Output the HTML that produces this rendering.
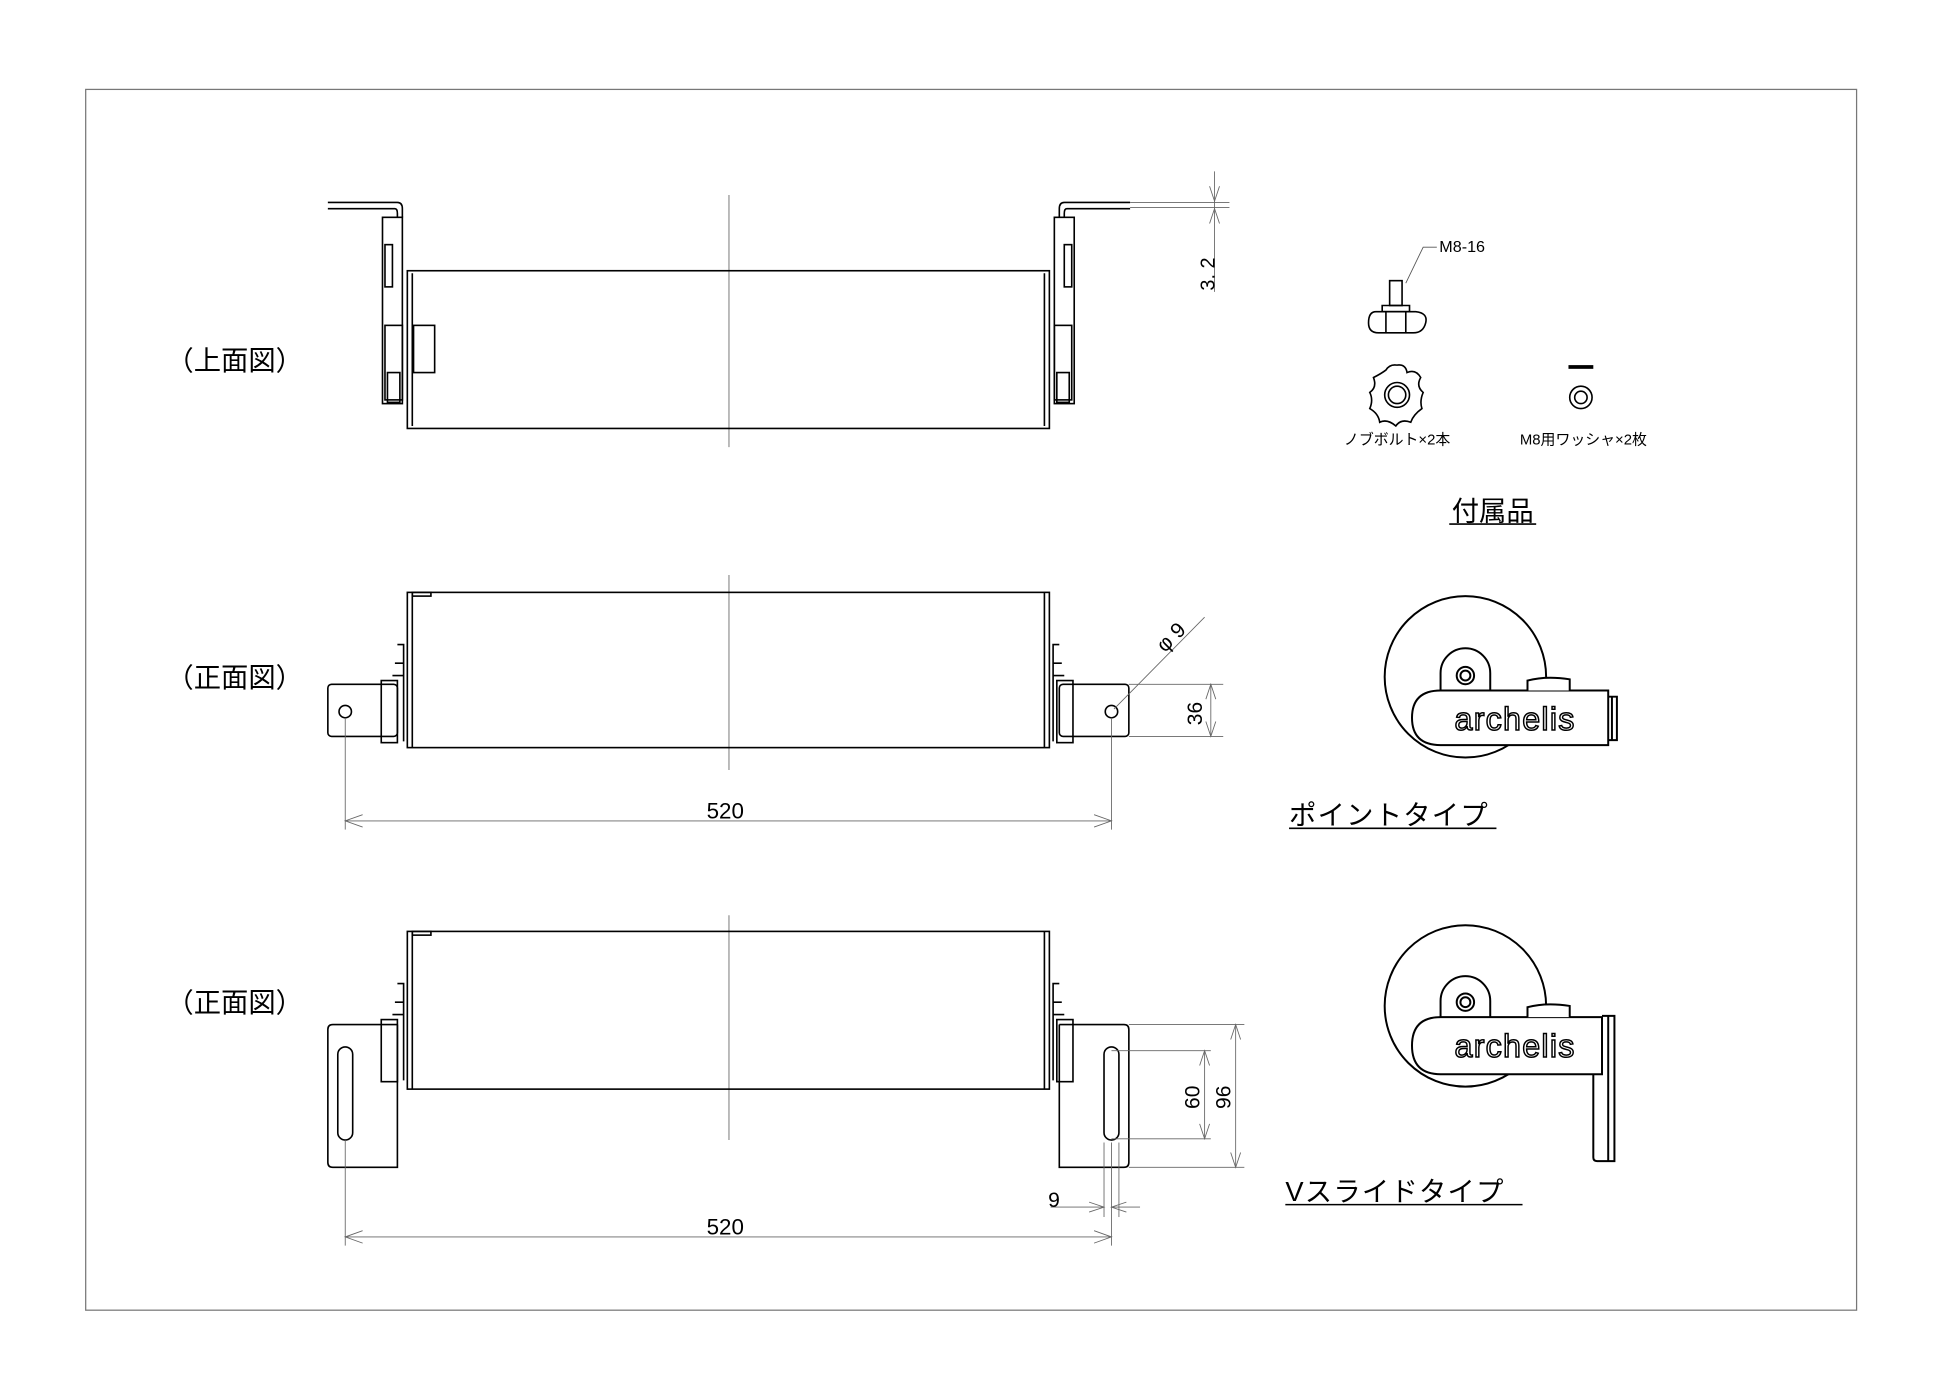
<!DOCTYPE html>
<html><head><meta charset="utf-8"><style>
html,body{margin:0;padding:0;background:#fff;}
svg{display:block;}
text{font-family:"Liberation Sans","Noto Sans CJK JP",sans-serif;fill:#000;}
</style></head><body>
<svg width="1946" height="1376" viewBox="0 0 1567 1108" preserveAspectRatio="none" xmlns="http://www.w3.org/2000/svg">
<rect x="0" y="0" width="1567" height="1108" fill="#fff"/>
<rect x="69" y="72" width="1426" height="983" fill="none" stroke="#777" stroke-width="1"/>

<g fill="none" stroke="#000" stroke-width="1.3">
<line x1="587" y1="157" x2="587" y2="360" stroke="#666" stroke-width="0.7"/>
<path d="M264 163 H320 Q324 163 324 168 V175 M264 168 H318 Q320 168 320 172 V175"/>
<rect x="308" y="175" width="16" height="150"/>
<rect x="310" y="197" width="6" height="34"/>
<rect x="310" y="262" width="14" height="60"/>
<rect x="312" y="300" width="10" height="24"/>
<rect x="333" y="262" width="17" height="38"/>
<rect x="328" y="218" width="517" height="127"/>
<line x1="332" y1="220" x2="332" y2="343"/><line x1="841" y1="220" x2="841" y2="343"/>
<path d="M910 163 H857 Q853 163 853 168 V175 M910 168 H859 Q857 168 857 172 V175"/>
<rect x="849" y="175" width="16" height="150"/>
<rect x="857" y="197" width="6" height="34"/>
<rect x="849" y="262" width="14" height="60"/>
<rect x="851" y="300" width="10" height="24"/>
</g>
<g stroke="#666" stroke-width="0.7" fill="none">
<line x1="910" y1="163" x2="990" y2="163"/><line x1="910" y1="167" x2="990" y2="167"/>
<line x1="978" y1="138" x2="978" y2="235"/>
<path d="M974 150 L978 162 L982 150 M974 180 L978 168 L982 180"/>
</g>
<text transform="translate(978,234) rotate(-90)" font-size="16">3. 2</text>
<text x="134" y="298" font-size="22">（上面図）</text>

<g fill="none" stroke="#000" stroke-width="1.3">
<line x1="587" y1="463" x2="587" y2="620" stroke="#666" stroke-width="0.7"/>
<rect x="328" y="477" width="517" height="125"/>
<line x1="332" y1="477" x2="332" y2="602"/><line x1="841" y1="477" x2="841" y2="602"/>
<rect x="332" y="477" width="15" height="3"/>
<rect x="264" y="551" width="56" height="42" rx="3"/>
<circle cx="278" cy="573" r="5"/>
<path d="M320 519 H325 V597 M318 534 H325 M316 544 H325"/>
<rect x="307" y="548" width="13" height="50"/>
<rect x="853" y="551" width="56" height="42" rx="3"/>
<circle cx="895" cy="573" r="5"/>
<path d="M853 519 H848 V597 M855 534 H848 M857 544 H848"/>
<rect x="851" y="548" width="13" height="50"/>
</g>
<g stroke="#666" stroke-width="0.7" fill="none">
<line x1="909" y1="551" x2="985" y2="551"/><line x1="909" y1="593" x2="985" y2="593"/>
<line x1="975" y1="551" x2="975" y2="593"/>
<path d="M971 563 L975 551 L979 563 M971 581 L975 593 L979 581"/>
<line x1="897" y1="571" x2="970" y2="497"/>
<line x1="278" y1="578" x2="278" y2="668"/><line x1="895" y1="578" x2="895" y2="668"/>
<line x1="278" y1="661" x2="895" y2="661"/>
<path d="M292 656 L278 661 L292 666 M881 656 L895 661 L881 666"/>
</g>
<text transform="translate(968,584) rotate(-90)" font-size="17">36</text>
<text transform="translate(938,526) rotate(-45)" font-size="17">φ 9</text>
<text x="569" y="659" font-size="18">520</text>
<text x="134" y="553" font-size="22">（正面図）</text>

<g fill="none" stroke="#000" stroke-width="1.3">
<line x1="587" y1="737" x2="587" y2="918" stroke="#666" stroke-width="0.7"/>
<rect x="328" y="750" width="517" height="127"/>
<line x1="332" y1="750" x2="332" y2="877"/><line x1="841" y1="750" x2="841" y2="877"/>
<rect x="332" y="750" width="15" height="3"/>
<path d="M320 825 H268 Q264 825 264 829 V936 Q264 940 268 940 H320 V825"/>
<rect x="272" y="843" width="12" height="75" rx="6"/>
<path d="M320 792 H325 V870 M318 807 H325 M316 817 H325"/>
<rect x="307" y="821" width="13" height="50"/>
<path d="M853 825 H905 Q909 825 909 829 V936 Q909 940 905 940 H853 V825"/>
<rect x="889" y="843" width="12" height="75" rx="6"/>
<path d="M853 792 H848 V870 M855 807 H848 M857 817 H848"/>
<rect x="851" y="821" width="13" height="50"/>
</g>
<g stroke="#666" stroke-width="0.7" fill="none">
<line x1="909" y1="825" x2="1002" y2="825"/><line x1="909" y1="940" x2="1002" y2="940"/>
<line x1="995" y1="825" x2="995" y2="940"/>
<path d="M991 837 L995 825 L999 837 M991 928 L995 940 L999 928"/>
<line x1="895" y1="846" x2="975" y2="846"/><line x1="895" y1="917" x2="975" y2="917"/>
<line x1="970" y1="846" x2="970" y2="917"/>
<path d="M966 858 L970 846 L974 858 M966 905 L970 917 L974 905"/>
<line x1="889" y1="920" x2="889" y2="980"/><line x1="895" y1="920" x2="895" y2="980"/><line x1="901" y1="920" x2="901" y2="980"/>
<line x1="846" y1="972" x2="889" y2="972"/><line x1="895" y1="972" x2="918" y2="972"/>
<path d="M877 968 L889 972 L877 976 M907 968 L895 972 L907 976"/>
<line x1="278" y1="918" x2="278" y2="1003"/><line x1="895" y1="980" x2="895" y2="1003"/>
<line x1="278" y1="996" x2="895" y2="996"/>
<path d="M292 991 L278 996 L292 1001 M881 991 L895 996 L881 1001"/>
</g>
<text transform="translate(966,893) rotate(-90)" font-size="17">60</text>
<text transform="translate(991,893) rotate(-90)" font-size="17">96</text>
<text x="844" y="972" font-size="17">9</text>
<text x="569" y="994" font-size="18">520</text>
<text x="134" y="815" font-size="22">（正面図）</text>

<g fill="none" stroke="#000" stroke-width="1.3">
<rect x="1119" y="226" width="10" height="20"/>
<path d="M1113 246 H1135 V251 H1113 Z"/>
<path d="M1108 251 H1140 Q1150 252 1148 260 Q1146 268 1138 268 H1110 Q1102 268 1102 260 Q1102 251 1108 251 Z"/>
<line x1="1116" y1="251" x2="1116" y2="268"/><line x1="1132" y1="251" x2="1132" y2="268"/>
<path d="M1125 294 Q1132 293 1133 300 Q1140 297 1144 304 Q1140 311 1146 316 Q1143 323 1145 329 Q1138 334 1136 340 Q1128 337 1124 343 Q1117 337 1111 340 Q1110 333 1103 329 Q1106 322 1103 316 Q1109 312 1106 304 Q1112 301 1116 298 Q1119 293 1125 294 Z"/>
<circle cx="1125" cy="318" r="10"/><circle cx="1125" cy="318" r="7"/>
<circle cx="1273" cy="320" r="9"/><circle cx="1273" cy="320" r="5"/>
</g>
<rect x="1263" y="294" width="20" height="3" fill="#000"/>
<path d="M1157 199 H1146 L1132 228" stroke="#555" stroke-width="0.7" fill="none"/>
<text x="1159" y="203" font-size="13" font-family="Liberation Mono,monospace">M8-16</text>
<text x="1125" y="358" font-size="12" text-anchor="middle">ノブボルト×2本</text>
<text x="1275" y="358" font-size="12" text-anchor="middle">M8用ワッシャ×2枚</text>
<text x="1202" y="419" font-size="22" text-anchor="middle">付属品</text>
<line x1="1167" y1="422" x2="1237" y2="422" stroke="#000" stroke-width="1.3"/>

<g fill="none" stroke="#000" stroke-width="1.6">
<circle cx="1180" cy="545" r="65"/>
<path d="M1160 557 V542 A20 20 0 0 1 1200 542 V557"/>
<circle cx="1180" cy="544" r="7"/><circle cx="1180" cy="544" r="4"/>
<path d="M1160 556 H1295 V600 H1160 Q1137 600 1137 578 Q1137 556 1160 556 Z" fill="#fff"/>
<path d="M1230 556 V548 Q1245 544 1264 547 V556" fill="#fff"/>
<path d="M1295 561 H1302 V596 H1295"/><line x1="1298" y1="561" x2="1298" y2="596"/>
</g>
<text x="1220" y="588" font-size="26" text-anchor="middle" style="fill:#fff;stroke:#000;stroke-width:1.2" letter-spacing="1" font-family="DejaVu Sans,sans-serif">archelis</text>
<text x="1038" y="664" font-size="22" letter-spacing="1">ポイントタイプ</text>
<line x1="1038" y1="667" x2="1205" y2="667" stroke="#000" stroke-width="1.3"/>

<g fill="none" stroke="#000" stroke-width="1.6">
<circle cx="1180" cy="810" r="65"/>
<path d="M1160 820 V806 A20 20 0 0 1 1200 806 V820"/>
<circle cx="1180" cy="807" r="7"/><circle cx="1180" cy="807" r="4"/>
<path d="M1160 819 H1290 V865 H1160 Q1137 865 1137 842 Q1137 819 1160 819 Z" fill="#fff"/>
<path d="M1230 819 V811 Q1245 807 1264 810 V819" fill="#fff"/>
<path d="M1290 818 H1300 V935 H1286 Q1283 935 1283 932 V865"/><line x1="1295" y1="818" x2="1295" y2="935"/>
</g>
<text x="1220" y="851" font-size="26" text-anchor="middle" style="fill:#fff;stroke:#000;stroke-width:1.2" letter-spacing="1" font-family="DejaVu Sans,sans-serif">archelis</text>
<text x="1035" y="967" font-size="22" letter-spacing="1">Vスライドタイプ</text>
<line x1="1035" y1="970" x2="1226" y2="970" stroke="#000" stroke-width="1.3"/>
</svg>
</body></html>
